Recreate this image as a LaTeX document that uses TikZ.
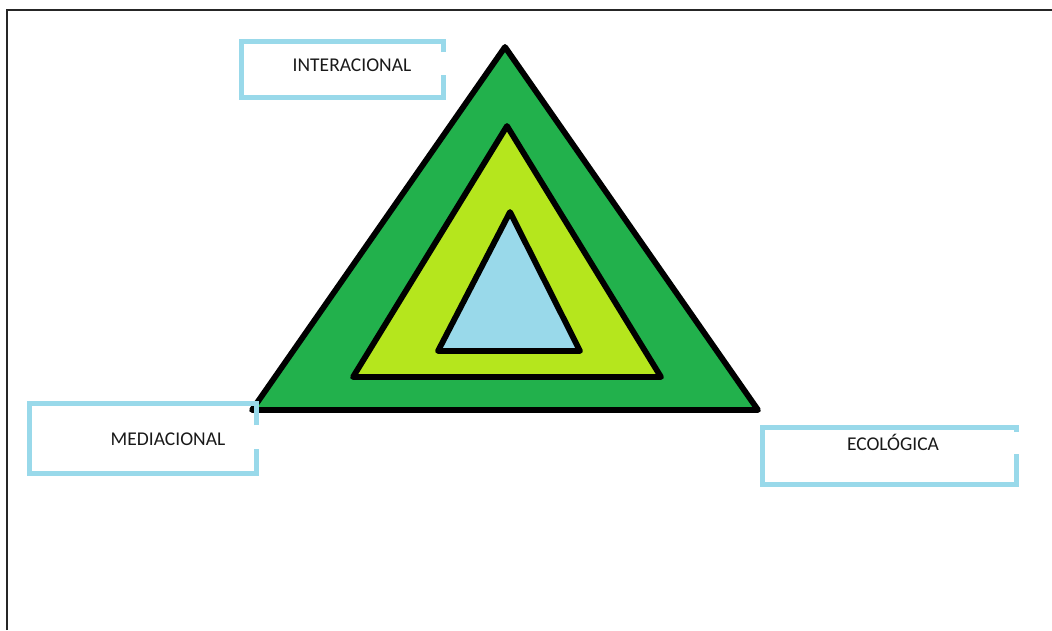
\documentclass[tikz,border=0pt]{standalone}
\usepackage{fontspec}
\setmainfont{Carlito}
\usepackage{xcolor}
\usetikzlibrary{positioning}
\definecolor{outergreen}{RGB}{34,177,76}
\definecolor{limegreen}{RGB}{181,230,29}
\definecolor{paleblue}{RGB}{153,217,234}

\begin{document}
\begin{tikzpicture}[
      x=1pt, y=-1pt,
      layer/.style={draw=black, line width=5.8pt, line join=round},
      frame/.style={draw=paleblue, line width=5pt},
      label/.style={font=\fontsize{19.5}{21}\selectfont, text=black!90, anchor=base}
    ]
      \useasboundingbox (0,0) rectangle (1052,630);
      % Page edge
      \draw[line width=1.6pt, black!85] (7,630) -- (7,10) -- (1052,10);

      % Triangles
      \coordinate (oa) at (505,47);
      \coordinate (ol) at (252,410);
      \coordinate (or) at (758,410);
      \coordinate (ma) at (507,126);
      \coordinate (ml) at (353,377);
      \coordinate (mr) at (661,377);
      \coordinate (ia) at (510,212);
      \coordinate (il) at (438,351);
      \coordinate (ir) at (580,351);
      \draw[layer, fill=outergreen] (oa) -- (or) -- (ol) -- cycle;
      \draw[layer, fill=limegreen] (ma) -- (mr) -- (ml) -- cycle;
      \draw[layer, fill=paleblue] (ia) -- (ir) -- (il) -- cycle;

      % Labels
      \node[label] (interacional) at (352,71) {INTERACIONAL};
      \node[label] (mediacional) at (168,445) {MEDIACIONAL};
      \node[label] (ecologica) at (893,450) {ECOLÓGICA};

      % Open frames
      \draw[frame] (443,52) -- (443,41) -- (241,41) -- (241,97) -- (443,97) -- (443,75);
      \draw[frame] (256,425) -- (256,403) -- (29,403) -- (29,473) -- (256,473) -- (256,449);
      \draw[frame] (1016,432) -- (1016,427) -- (762,427) -- (762,484) -- (1016,484) -- (1016,454);

    \end{tikzpicture}
\end{document}
